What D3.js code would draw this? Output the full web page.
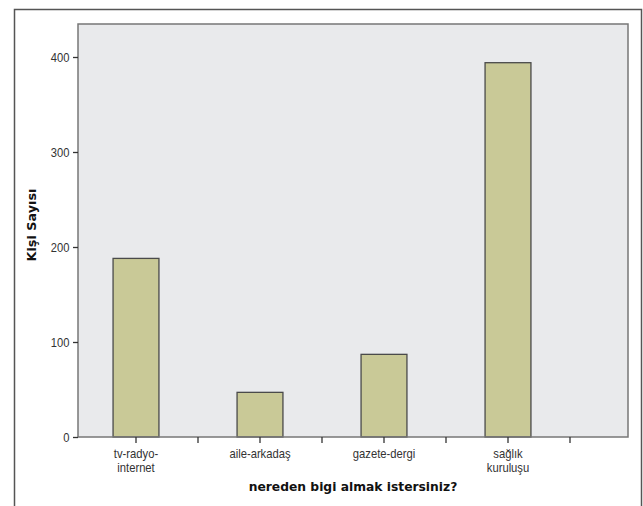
<!DOCTYPE html>
<html><head><meta charset="utf-8">
<script src="https://cdn.jsdelivr.net/npm/d3@7"></script>
<style>body{margin:0;background:#fff}svg{display:block}</style>
</head><body>
<script>
const categories = [["tv-radyo-","internet"],["aile-arkadaş"],["gazete-dergi"],["sağlık","kuruluşu"]];
const values = [188, 47, 87, 394];
const yTicks = [0, 100, 200, 300, 400];
const xTitle = "nereden bigi almak istersiniz?";
const yTitle = "Kişi Sayısı";

const W = 643, H = 506;
const plot = {left: 78, right: 628, top: 24, bottom: 437};
const narrow = "'Liberation Sans',Arial,sans-serif";
const bold = "'DejaVu Sans',Verdana,sans-serif";
const squeeze = 0.86;

const svg = d3.select("body").append("svg").attr("width", W).attr("height", H);

// outer frame
svg.append("rect").attr("x", 14.5).attr("y", 9.5).attr("width", 627).attr("height", 510)
  .attr("fill", "#fff").attr("stroke", "#555").attr("stroke-width", 1.5);

const keys = categories.map(c => c.join(" "));
const x = d3.scaleBand().domain(keys).range([74, 570]).padding(0);
const y = d3.scaleLinear().domain([0, 400]).range([plot.bottom, 57]);

// plot background
svg.append("rect").attr("x", plot.left).attr("y", plot.top)
  .attr("width", plot.right - plot.left).attr("height", plot.bottom - plot.top)
  .attr("fill", "#e9eaec");

// bars
const bw = x.bandwidth() * 0.37;
svg.append("g").selectAll("rect").data(values).join("rect")
  .attr("x", (d, i) => x(keys[i]) + x.bandwidth() / 2 - bw / 2)
  .attr("y", d => y(d))
  .attr("width", bw)
  .attr("height", d => y(0) - y(d))
  .attr("fill", "#c9c997").attr("stroke", "#4a4a4a").attr("stroke-width", 1.3);

// plot border
svg.append("rect").attr("x", plot.left).attr("y", plot.top)
  .attr("width", plot.right - plot.left).attr("height", plot.bottom - plot.top)
  .attr("fill", "none").attr("stroke", "#777").attr("stroke-width", 1.5);

// y axis
const yAxis = d3.axisLeft(y).tickValues(yTicks).tickSize(5).tickPadding(5).tickFormat(d3.format("d"));
const gy = svg.append("g").attr("transform", `translate(${plot.left},0)`).call(yAxis);
gy.select(".domain").remove();
gy.selectAll(".tick line").attr("stroke", "#333").attr("stroke-width", 1.3);
gy.selectAll(".tick text").attr("font-family", narrow).attr("font-size", 13).attr("fill", "#333")
  .attr("transform", `scale(${squeeze},1)`);

// x axis
const gx = svg.append("g").attr("transform", `translate(0,${plot.bottom})`);
gx.selectAll("line.c").data(keys).join("line").attr("class", "c")
  .attr("x1", d => x(d) + x.bandwidth() / 2).attr("x2", d => x(d) + x.bandwidth() / 2)
  .attr("y1", 0).attr("y2", 6).attr("stroke", "#333").attr("stroke-width", 1.3);
gx.selectAll("line.b").data(keys).join("line").attr("class", "b")
  .attr("x1", d => x(d) + x.step()).attr("x2", d => x(d) + x.step())
  .attr("y1", 0).attr("y2", 6).attr("stroke", "#333").attr("stroke-width", 1.3);
const lines = [];
categories.forEach((c, i) => c.forEach((s, j) => lines.push({s, i, j})));
gx.selectAll("text.c").data(lines).join("text").attr("class", "c")
  .attr("font-family", narrow).attr("font-size", 12.5).attr("fill", "#333")
  .attr("text-anchor", "middle")
  .attr("transform", d => `translate(${x(keys[d.i]) + x.bandwidth() / 2},${21 + d.j * 14}) scale(0.9,1)`)
  .text(d => d.s);

// titles
svg.append("text").attr("x", 353).attr("y", 491)
  .attr("text-anchor", "middle").attr("font-family", bold).attr("font-weight", "bold")
  .attr("font-size", 12.3).attr("fill", "#111").text(xTitle);
svg.append("text").attr("transform", "translate(36,225) rotate(-90)")
  .attr("text-anchor", "middle").attr("font-family", bold).attr("font-weight", "bold")
  .attr("font-size", 12.8).attr("fill", "#111").text(yTitle);
</script>
</body></html>
